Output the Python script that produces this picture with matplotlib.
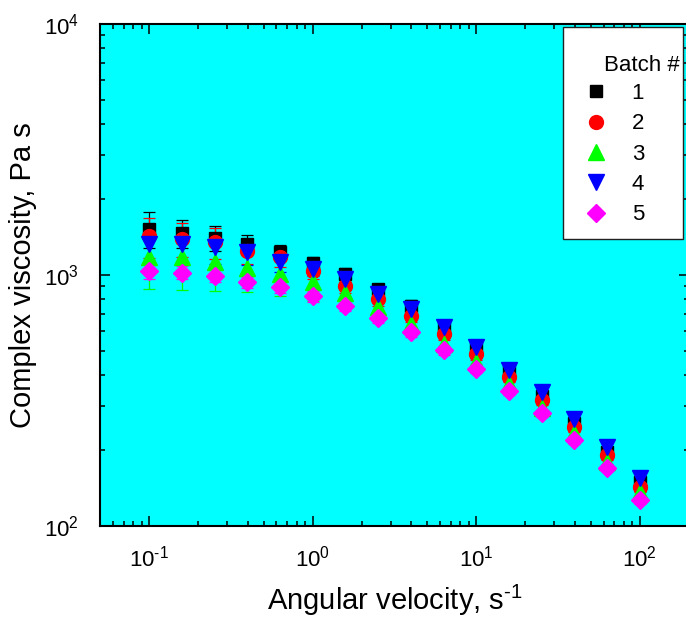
import math
import matplotlib
matplotlib.use("Agg")
import matplotlib.pyplot as plt
from matplotlib.ticker import LogLocator, FuncFormatter, NullFormatter
from matplotlib.patches import Rectangle

plt.rcParams['font.family'] = ['Liberation Sans', 'DejaVu Sans']
plt.rcParams['mathtext.default'] = 'regular'

# angular velocity, s^-1
w = [0.1, 0.158, 0.251, 0.398, 0.631, 1.0, 1.585, 2.51, 3.98, 6.31,
     10, 15.85, 25.1, 39.8, 63.1, 100]

# complex viscosity per batch, Pa s
b1 = [1528, 1472, 1406, 1330, 1236, 1117, 1009, 879, 754, 627, 514, 414, 329, 257, 198, 150]
b2 = [1430, 1396, 1350, 1251, 1180, 1038, 903, 800, 686, 580, 483, 394, 319, 249, 192, 143]
b3 = [1180, 1180, 1130, 1067, 1009, 936, 845, 748, 636, 529, 449, 367, 296, 235, 180, 137]
b4 = [1330, 1330, 1290, 1236, 1131, 1059, 965, 837, 730, 620, 515, 420, 341, 266, 207, 155]
b5 = [1038, 1023, 990, 936, 894, 822, 751, 672, 591, 502, 424, 346, 281, 221, 171, 127]

# error bars
e1 = [250, 190, 165, 115, 80, 65, 55, 45, 38, 30, 25, 20, 16, 12, 9, 7]
e2 = [260, 220, 190, 140, 100, 70, 55, 45, 36, 30, 25, 20, 15, 12, 9, 7]
e3 = [300, 310, 265, 215, 185, 150, 110, 70, 50, 35, 25, 18, 14, 10, 8, 6]
e4 = [220, 200, 180, 140, 100, 70, 55, 45, 38, 32, 26, 21, 16, 13, 10, 8]
e5 = [70, 60, 55, 50, 45, 40, 35, 30, 25, 20, 16, 13, 10, 8, 6, 5]

batches = ['1', '2', '3', '4', '5']
values = [b1, b2, b3, b4, b5]
errors = [e1, e2, e3, e4, e5]
colors = ['black', 'red', '#00FF00', '#0000FF', '#FF00FF']
markers = ['s', 'o', '^', 'v', 'D']
msizes = [9, 10, 12, 12, 9]

W, H = 686, 623
fig = plt.figure(figsize=(W / 100, H / 100), dpi=100)
ax = fig.add_axes([100 / W, 1 - 526 / H, 589 / W, 502 / H])
ax.set_facecolor('#00FFFF')

handles = []
for lab, y, e, c, m, ms in zip(batches, values, errors, colors, markers, msizes):
    h = ax.errorbar(w, y, yerr=e, fmt=m, color=c, ms=ms, mec=c, ecolor=c,
                    elinewidth=0.9, capsize=4.5, capthick=0.9, label=lab)
    handles.append(h[0])

ax.set_xscale('log')
ax.set_yscale('log')
ax.set_xlim(0.05, 200)
ax.set_ylim(100, 10000)


def pow10(v, pos):
    n = round(math.log10(v))
    s = str(n).replace('-', '\u2010')
    return '$10^{%s}$' % s


for axis in (ax.xaxis, ax.yaxis):
    axis.set_major_locator(LogLocator(base=10))
    axis.set_minor_locator(LogLocator(base=10, subs=range(2, 10)))
    axis.set_major_formatter(FuncFormatter(pow10))
    axis.set_minor_formatter(NullFormatter())

ax.tick_params(which='both', direction='in', top=True, right=True, width=1.1)
ax.tick_params(which='major', length=7, labelsize=16)
ax.tick_params(axis='x', which='major', pad=14)
ax.tick_params(axis='y', which='major', pad=15)
ax.tick_params(which='minor', length=3.5)
for s in ax.spines.values():
    s.set_linewidth(1.5)

ax.set_xlabel('Angular velocity, s$^{\u20101}$', fontsize=21, labelpad=8)
ax.set_ylabel('Complex viscosity, Pa s', fontsize=21, labelpad=5)

# legend box
ax.add_patch(Rectangle((563 / W, 1 - 239 / H), 120 / W, 212 / H,
                       transform=fig.transFigure, facecolor='white',
                       edgecolor='#222222', lw=1, zorder=10, clip_on=False))
fig.text(680 / W, 1 - 71 / H, 'Batch #', ha='right', va='baseline',
         fontsize=16, zorder=12)
leg = ax.legend(handles=handles, labels=batches, loc='upper left',
                bbox_to_anchor=(585 / W, 1 - 83 / H),
                bbox_transform=fig.transFigure, frameon=False, fontsize=16,
                numpoints=1, handlelength=1.0, handletextpad=1.1,
                labelspacing=0.42, borderpad=0, borderaxespad=0)
leg.set_zorder(11)

fig.savefig('out.png', dpi=100)
